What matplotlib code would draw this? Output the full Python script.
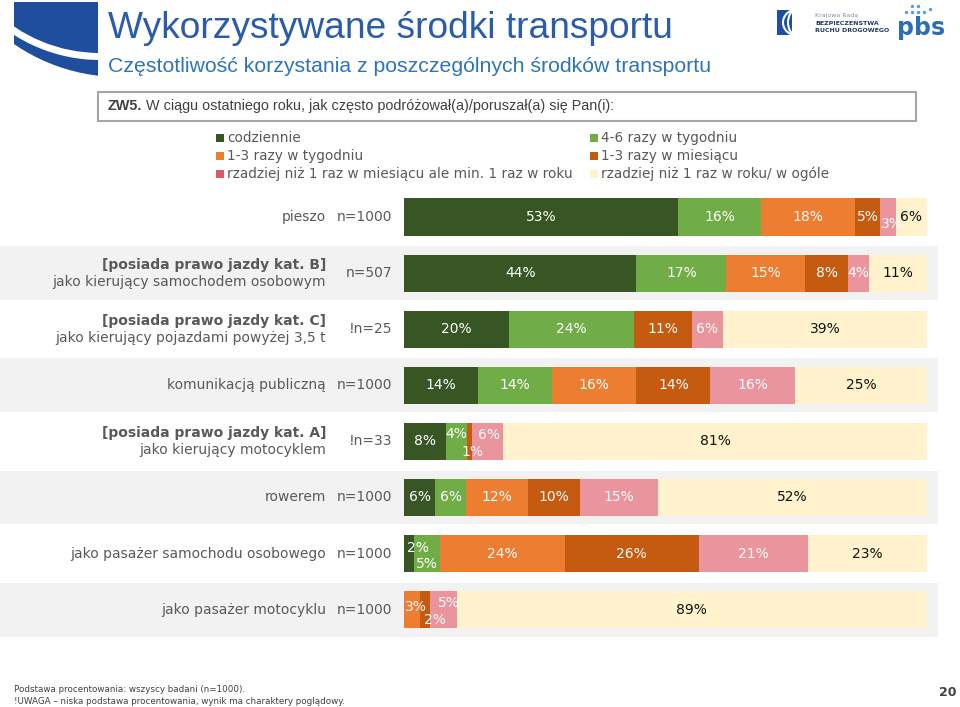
import matplotlib.pyplot as plt
import matplotlib.patches as mpatches
import numpy as np

# wiersze wykresu
naglowki = ["", "[posiada prawo jazdy kat. B]", "[posiada prawo jazdy kat. C]", "",
            "[posiada prawo jazdy kat. A]", "", "", ""]
kategorie = ["pieszo", "jako kierujący samochodem osobowym",
             "jako kierujący pojazdami powyżej 3,5 t", "komunikacją publiczną",
             "jako kierujący motocyklem", "rowerem",
             "jako pasażer samochodu osobowego", "jako pasażer motocyklu"]
podstawa = ["n=1000", "n=507", "!n=25", "n=1000", "!n=33", "n=1000", "n=1000", "n=1000"]

# serie (odpowiedzi)
serie = ["codziennie", "4-6 razy w tygodniu", "1-3 razy w tygodniu", "1-3 razy w miesiącu",
         "rzadziej niż 1 raz w miesiącu ale min. 1 raz w roku",
         "rzadziej niż 1 raz w roku/ w ogóle"]
codziennie = [53, 44, 20, 14, 8, 6, 2, 0]
tyg_4_6 = [16, 17, 24, 14, 4, 6, 5, 0]
tyg_1_3 = [18, 15, 0, 16, 0, 12, 24, 3]
mies_1_3 = [5, 8, 11, 14, 1, 10, 26, 2]
rzadziej_mies = [3, 4, 6, 16, 6, 15, 21, 5]
rzadziej_rok = [6, 11, 39, 25, 81, 52, 23, 89]

kolory = ['#375623', '#70AD47', '#ED7D31', '#C55A11', '#EA959D', '#FFF2CC']
kolory_leg = ['#375623', '#70AD47', '#ED7D31', '#C55A11', '#DA5A6C', '#FFF2CC']
szary = '#595959'

# przesuniecia etykiet malych segmentow (px): (wiersz, seria) -> (dx, dy)
przesuniecia = {(0, 4): (4, 7), (4, 1): (0, -7), (4, 3): (3, 11), (4, 4): (1, -6),
                (6, 0): (9, -6), (6, 1): (0, 10), (7, 2): (4, -3), (7, 3): (10, 10),
                (7, 4): (5, -7)}

fig = plt.figure(figsize=(9.6, 7.07), dpi=100)
# osie w pikselach na dekoracje
pax = fig.add_axes([0, 0, 1, 1])
pax.set_xlim(0, 960)
pax.set_ylim(707, 0)
pax.axis('off')

# osie wykresu
ax = fig.add_axes([0, 0, 1, 1])
x0, skala = 404, 5.23
y0, krok = 217, 56.1
ax.set_xlim(-x0 / skala, (960 - x0) / skala)
ax.set_ylim((707 - y0) / krok, -y0 / krok)
ax.axis('off')

wiersze = np.arange(len(kategorie))
for i in wiersze[1::2]:
    ax.axhspan(i - 0.48, i + 0.48, xmin=0, xmax=938 / 960, color='#F2F2F2', lw=0, zorder=0)

dane = np.array([codziennie, tyg_4_6, tyg_1_3, mies_1_3, rzadziej_mies, rzadziej_rok], float)
udzialy = dane / dane.sum(axis=0) * 100
lewo = np.zeros(len(kategorie))
for k in range(len(serie)):
    ax.barh(wiersze, udzialy[k], left=lewo, height=0.66, color=kolory[k], lw=0, zorder=2)
    for i in wiersze:
        if dane[k, i] > 0:
            dx, dy = przesuniecia.get((i, k), (0, 0))
            ax.text(lewo[i] + udzialy[k, i] / 2 + dx / skala, i + dy / krok,
                    f"{int(dane[k, i])}%", ha='center', va='center', fontsize=10,
                    color='#111111' if k == 5 else 'white', zorder=3)
    lewo += udzialy[k]

# opisy wierszy
for i in wiersze:
    if naglowki[i]:
        ax.text(-(x0 - 326) / skala, i - 8 / krok, naglowki[i], ha='right', va='center',
                fontsize=10, fontweight='bold', color=szary)
        ax.text(-(x0 - 326) / skala, i + 9 / krok, kategorie[i], ha='right', va='center',
                fontsize=10, color=szary)
    else:
        ax.text(-(x0 - 326) / skala, i, kategorie[i], ha='right', va='center',
                fontsize=10, color=szary)
    ax.text(-(x0 - 392) / skala, i, podstawa[i], ha='right', va='center',
            fontsize=10, color=szary)

# legenda
for k, nazwa in enumerate(serie):
    lx = [216, 590][k % 2]
    ly = 138 + 18 * (k // 2)
    pax.add_patch(mpatches.Rectangle((lx, ly - 4), 8, 8, color=kolory_leg[k], lw=0))
    pax.text(lx + 11, ly, nazwa, va='center', fontsize=9.8, color=szary)

# dekoracja w lewym gornym rogu
ramka = mpatches.Rectangle((14, 2), 84, 75, color='#1F4E9E', lw=0)
pax.add_patch(ramka)
luk = mpatches.Wedge((100, -100), 160, 0, 180, width=7, color='white', lw=0)
pax.add_patch(luk)
luk.set_clip_path(ramka)
dol = mpatches.Wedge((120, -110), 400, 0, 180, width=400 - 187, color='white', lw=0)
pax.add_patch(dol)
dol.set_clip_path(ramka)

# tytuly
pax.text(108, 28, "Wykorzystywane środki transportu", fontsize=26.7, color='#2A5CA8',
         family='Liberation Sans', va='center')
pax.text(108, 67, "Częstotliwość korzystania z poszczególnych środków transportu",
         fontsize=15.3, color='#2E75B6', family='Liberation Sans', va='center')

# logotypy
pax.add_patch(mpatches.Rectangle((777, 10), 15, 25, color='#1F4E9E', lw=0))
for r in (9, 14):
    pax.add_patch(mpatches.Arc((797, 22.5), 2 * r, 26, theta1=100, theta2=260,
                               color='white', lw=1.5))
pax.text(815, 16, "Krajowa Rada", fontsize=4.5, color='#7F8FA8', va='center')
pax.text(815, 23, "BEZPIECZEŃSTWA", fontsize=4.5, color='#1F3864', va='center',
         fontweight='bold')
pax.text(815, 30, "RUCHU DROGOWEGO", fontsize=4.5, color='#1F3864', va='center',
         fontweight='bold')
pax.text(921, 28, "pbs", fontsize=17, fontweight='bold', color='#2A6EB5',
         ha='center', va='center')
pax.scatter([906, 912, 912, 918, 918, 924, 930], [12, 6, 12, 6, 12, 12, 9], s=6,
            color='#5B9BD5', lw=0)

# pytanie w ramce
pax.add_patch(mpatches.Rectangle((98, 92), 818, 29, facecolor='white',
                                 edgecolor='#A6A6A6', lw=1.5))
t1 = pax.text(108, 106, "ZW5.", fontsize=10.4, fontweight='bold', color='#404040',
              family='Liberation Sans', va='center')
pax.annotate(" W ciągu ostatniego roku, jak często podróżował(a)/poruszał(a) się Pan(i):",
             xy=(1, 0.5), xycoords=t1, va='center', fontsize=10.4, color='#404040',
             family='Liberation Sans')

# stopka
pax.text(14, 690, "Podstawa procentowania: wszyscy badani (n=1000).", fontsize=6.3,
         color='#404040', va='center')
pax.text(14, 702, "!UWAGA – niska podstawa procentowania, wynik ma charaktery poglądowy.",
         fontsize=6.3, color='#404040', va='center')
pax.text(957, 693, "20", fontsize=9, fontweight='bold', color='#404040',
         ha='right', va='center')

fig.savefig("out.png", dpi=100)
